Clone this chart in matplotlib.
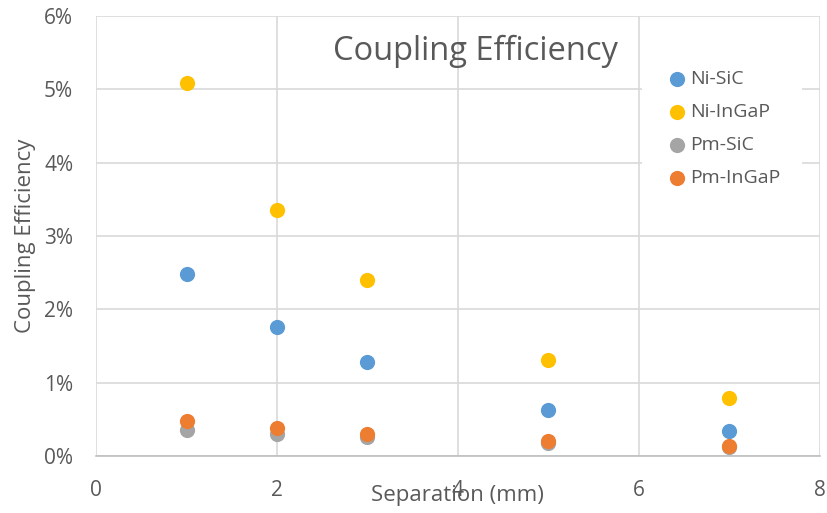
import numpy as np
import matplotlib.pyplot as plt
from matplotlib.ticker import FuncFormatter

plt.rcParams['font.family'] = ['Open Sans', 'DejaVu Sans']

# separation in mm
separation = [1, 2, 3, 5, 7]

# coupling efficiency in %
ni_sic = [2.48, 1.76, 1.28, 0.63, 0.34]
ni_ingap = [5.08, 3.36, 2.40, 1.31, 0.79]
pm_sic = [0.36, 0.30, 0.26, 0.18, 0.13]
pm_ingap = [0.48, 0.38, 0.30, 0.20, 0.14]

series = [
    ('Ni-SiC', ni_sic, '#5B9BD5'),
    ('Ni-InGaP', ni_ingap, '#FFC000'),
    ('Pm-SiC', pm_sic, '#A5A5A5'),
    ('Pm-InGaP', pm_ingap, '#ED7D31'),
]

grey = '#595959'

fig = plt.figure(figsize=(8.28, 5.13), dpi=100)
ax = fig.add_axes([0.116, 0.111, 0.874, 0.858])

for name, vals, col in series:
    ax.scatter(separation, vals, s=120, color=col, label=name, zorder=3, linewidths=0)

ax.set_xlim(0, 8)
ax.set_ylim(0, 6)
ax.set_xticks([0, 2, 4, 6, 8])
ax.set_yticks(np.arange(0, 7, 1))
ax.yaxis.set_major_formatter(FuncFormatter(lambda v, p: '%d%%' % v))
ax.grid(True, color='#D9D9D9', linewidth=1.2, zorder=0)
ax.set_axisbelow(True)
for s in ['top', 'right', 'left']:
    ax.spines[s].set_visible(False)
ax.spines['bottom'].set_color('#BFBFBF')
ax.spines['bottom'].set_linewidth(1.2)
ax.tick_params(length=0, labelsize=15, colors=grey)
ax.tick_params(axis='x', pad=17)
ax.tick_params(axis='y', pad=16.5)

ax.set_xlabel('Separation (mm)', fontsize=16, color=grey, labelpad=-11)
ax.set_ylabel('Coupling Efficiency', fontsize=16, color=grey, labelpad=6)
ax.text(0.525, 0.92, 'Coupling Efficiency', transform=ax.transAxes,
        fontsize=23.5, color=grey, ha='center', va='center')

leg = ax.legend(loc='upper left', bbox_to_anchor=(0.755, 0.925), fontsize=14,
                frameon=True, facecolor='white', edgecolor='none', framealpha=1,
                handletextpad=0.0, handlelength=1.34, labelspacing=0.76,
                borderpad=1.1, borderaxespad=0, fancybox=False, markerscale=1.0)
for t in leg.get_texts():
    t.set_color(grey)

fig.savefig('out.png', dpi=100)
